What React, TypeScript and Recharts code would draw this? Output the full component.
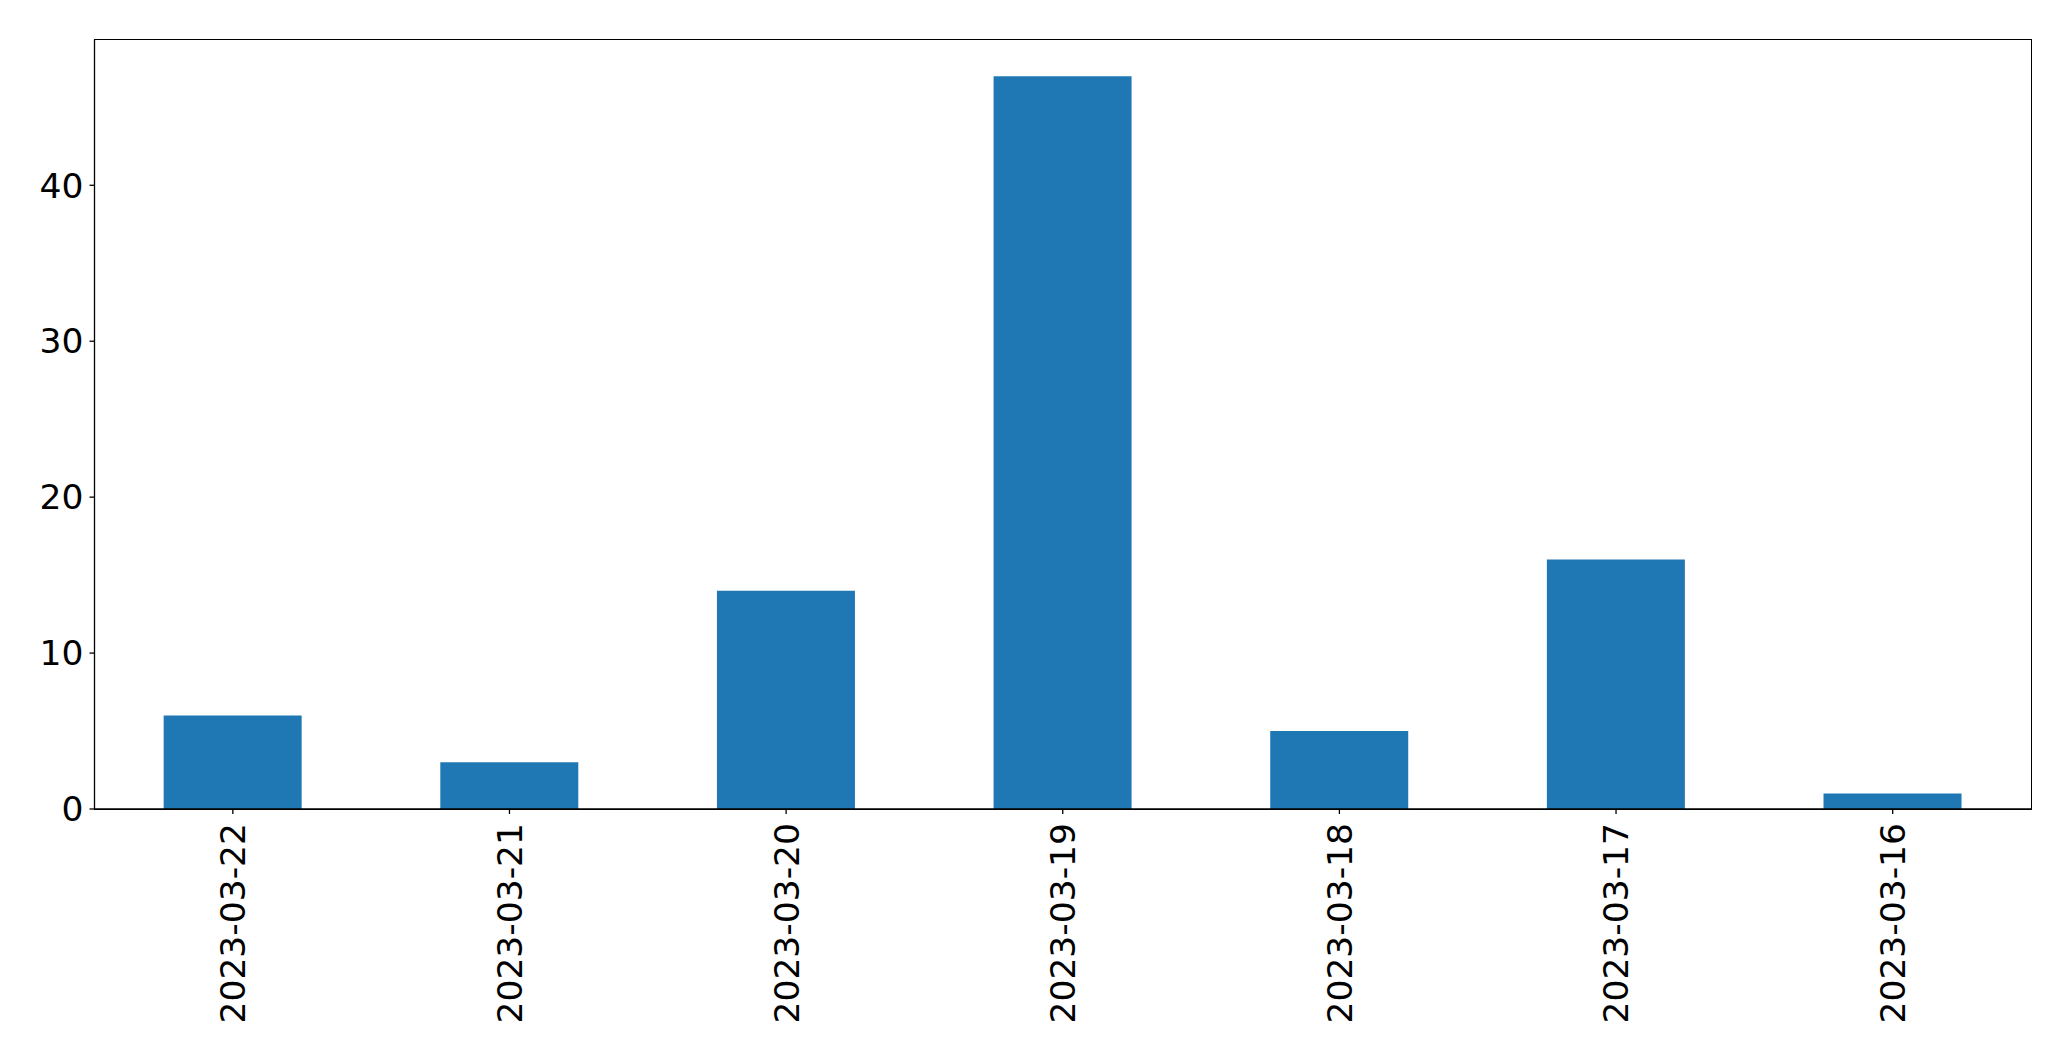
import { BarChart, Bar, XAxis, YAxis } from 'recharts';

const dates = ['2023-03-22', '2023-03-21', '2023-03-20', '2023-03-19', '2023-03-18', '2023-03-17', '2023-03-16'];
const counts = [6, 3, 14, 47, 5, 16, 1];
const yTicks = [0, 10, 20, 30, 40];

const data = dates.map((date, i) => ({ date, count: counts[i] }));

const FONT = '"DejaVu Sans", sans-serif';
const FONT_SIZE = 34.5;

// plot box, matplotlib style frame
const PLOT = { left: 94.5, top: 39.5, right: 40, bottom: 252 };

function DateTick({ x, y, payload }: any) {
  return (
    <g transform={`translate(${x},${y})`}>
      <text
        transform="rotate(-90)"
        textAnchor="end"
        dy="0.36em"
        fontSize={FONT_SIZE}
        fontFamily={FONT}
        fill="#000"
      >
        {payload.value}
      </text>
    </g>
  );
}

export default function App() {
  return (
    <div style={{ position: 'absolute', left: 0, top: 0, width: 2071, height: 1061, background: '#fff' }}>
      <BarChart
        width={2071}
        height={1061}
        data={data}
        margin={{ top: PLOT.top, right: PLOT.right, bottom: PLOT.bottom - 200, left: PLOT.left - 90 }}
        barCategoryGap="25%"
      >
        <XAxis
          dataKey="date"
          height={200}
          interval={0}
          tick={<DateTick />}
          tickSize={5}
          tickMargin={9}
          axisLine={{ stroke: '#000', strokeWidth: 1.3 }}
          tickLine={{ stroke: '#000', strokeWidth: 1.3 }}
        />
        <YAxis
          width={90}
          domain={[0, 49.35]}
          ticks={yTicks}
          tickSize={5}
          tickMargin={6}
          tick={{ fontSize: FONT_SIZE, fontFamily: FONT, fill: '#000' }}
          axisLine={{ stroke: '#000', strokeWidth: 1.3 }}
          tickLine={{ stroke: '#000', strokeWidth: 1.3 }}
        />
        <Bar dataKey="count" fill="#1f77b4" isAnimationActive={false} />
      </BarChart>
      <div
        style={{
          position: 'absolute',
          left: PLOT.left - 0.65,
          top: PLOT.top - 0.65,
          width: 2071 - PLOT.left - PLOT.right,
          height: 1061 - PLOT.top - PLOT.bottom,
          border: '1.3px solid #000',
          pointerEvents: 'none',
        }}
      />
    </div>
  );
}
